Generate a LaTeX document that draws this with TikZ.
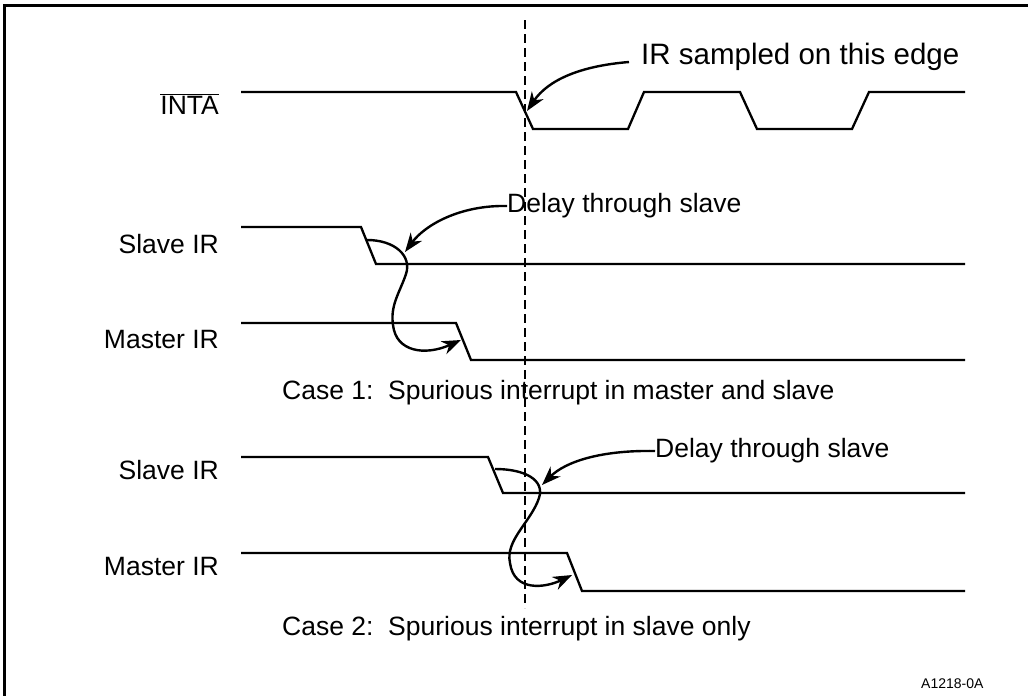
\documentclass[tikz,border=0pt]{standalone}
\usepackage{fontspec}
\setmainfont{Liberation Sans}
\usetikzlibrary{arrows.meta}
\begin{document}
\begin{tikzpicture}[x=1pt,y=-1pt,
  sig/.style={line width=2.3pt,line join=miter},
  frm/.style={line width=3.4pt},
  lbl/.style={font=\fontsize{26.5}{30}\selectfont,inner sep=0pt},
  dl/.style={line width=2.3pt,dash pattern=on 9pt off 5pt},
  arr/.style={line width=2.4pt,-{Stealth[length=19pt,width=14pt,inset=6pt]}}]
\useasboundingbox (0,0) rectangle (1028,696);
% frame
\draw[frm] (4.5,696) -- (4.5,5.5) -- (1028,5.5);
% dashed marker
\draw[dl] (525,20) -- (525,608);
% INTA
\node[lbl,anchor=east] (inta) at (219,104) {$\overline{\hbox{INTA}}$};
\draw[sig] (241,92) -- (516,92) -- (533,129) -- (628,129) -- (644,92) -- (740,92) -- (757,129) -- (852,129) -- (869,92) -- (965,92);
\coordinate (e0) at (527,111);
\node[lbl,font=\fontsize{29.5}{33}\selectfont,anchor=west] (irs) at (641,57) {IR sampled on this edge};
\draw[arr] (irs.west) ++(-12,5) coordinate (s0) .. controls (580,66) and (548,80) .. (e0);
% Case 1
\node[lbl,anchor=east] (s1) at (219,244) {Slave IR};
\draw[sig] (241,227) -- (361,227) -- (376,264) -- (965,264);
\node[lbl,anchor=east] (m1) at (219,340) {Master IR};
\draw[sig] (241,323) -- (456,323) -- (471,360) -- (965,360);
\node[lbl,anchor=west] (d1) at (507,206) {Delay through slave};
\coordinate (e1) at (405,252);
\draw[arr] (d1.west) .. controls (460,205) and (425,225) .. (e1);
\coordinate (c1) at (367,240);
\coordinate (t1) at (461,340);
\draw[arr] (c1) .. controls (395,240) and (412,256) .. (406,274) .. controls (400,292) and (390,305) .. (393,325) .. controls (396,352) and (425,356) .. (t1);
\node[lbl,anchor=west] (cap1) at (282,393) {Case 1:\ \ Spurious interrupt in master and slave};
% Case 2
\node[lbl,anchor=east] (s2) at (219,470) {Slave IR};
\draw[sig] (241,457) -- (488,457) -- (503,493) -- (965,493);
\node[lbl,anchor=east] (m2) at (219,567) {Master IR};
\draw[sig] (241,553) -- (567,553) -- (582,591) -- (965,591);
\node[lbl,anchor=west] (d2) at (655,451) {Delay through slave};
\coordinate (e2) at (542,485);
\draw[arr] (d2.west) .. controls (600,450) and (565,462) .. (e2);
\coordinate (c2) at (495,469);
\coordinate (t2) at (572,575);
\draw[arr] (c2) .. controls (525,469) and (545,480) .. (539,498) .. controls (531,522) and (505,540) .. (510,563) .. controls (514,592) and (545,588) .. (t2);
\node[lbl,anchor=west] (cap2) at (282,629) {Case 2:\ \ Spurious interrupt in slave only};
\node[font=\fontsize{14}{16}\selectfont,inner sep=0pt,anchor=west] (id) at (921,684) {A1218-0A};
\end{tikzpicture}
\end{document}
